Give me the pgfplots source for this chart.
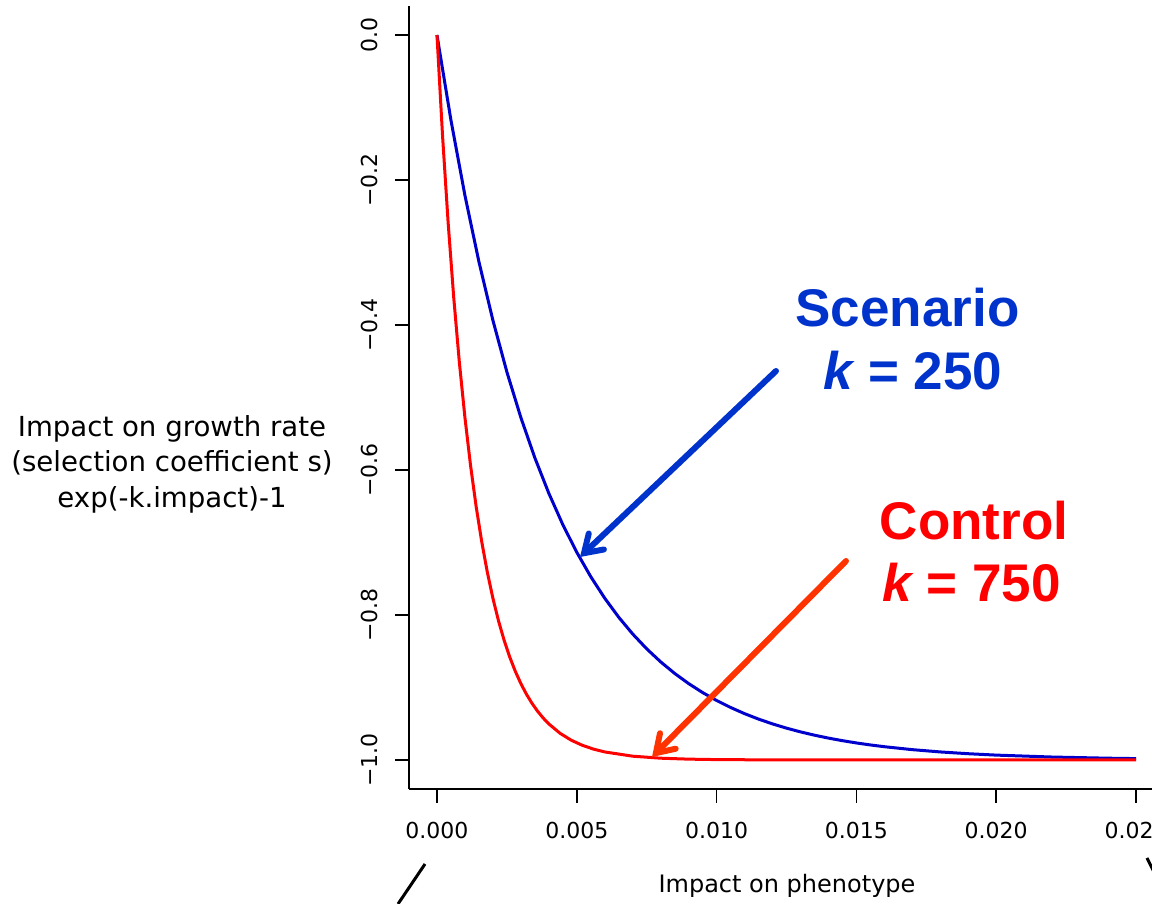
\documentclass[border=0pt]{standalone}
\usepackage{fontspec}
\setmainfont{DejaVu Sans}
\newfontfamily\boldarial{Liberation Sans}
\usepackage{pgfplots}
\pgfplotsset{compat=1.18}
\usetikzlibrary{arrows.meta}
\definecolor{scenblue}{HTML}{0033CC}
\definecolor{curveblue}{HTML}{0000CC}
\definecolor{ctrlred}{HTML}{FF0000}
\definecolor{arrowred}{HTML}{FF3300}
\begin{document}
\begin{tikzpicture}
\useasboundingbox (0pt,0pt) rectangle (576pt,452pt);
\begin{axis}[
  at={(204.5pt,57.5pt)}, anchor=south west,
  scale only axis, width=377.5pt, height=391.5pt,
  xmin=-0.001, xmax=0.026, ymin=-1.04, ymax=0.04,
  scaled x ticks=false, scaled y ticks=false,
  axis x line*=bottom, axis y line*=left,
  axis line style={-, line width=0.9pt, black},
  tick align=outside, major tick length=7pt,
  tick style={line width=0.9pt, black},
  xtick={0,0.005,0.01,0.015,0.02,0.025},
  xticklabels={0.000,0.005,0.010,0.015,0.020,0.025},
  ytick={-1,-0.8,-0.6,-0.4,-0.2,0},
  yticklabels={−1.0,−0.8,−0.6,−0.4,−0.2,0.0},
  ticklabel style={font=\fontsize{11}{13}\selectfont},
  xticklabel style={anchor=north, inner sep=0pt, yshift=-9.5pt},
  yticklabel style={rotate=90, anchor=south, inner sep=0pt, yshift=8.5pt},
  clip=false,
]
\addplot[curveblue, line width=1.5pt] coordinates {
(0,0) (0.0005,-0.117503) (0.001,-0.221199) (0.0015,-0.312711) (0.002,-0.393469)
(0.0025,-0.464739) (0.003,-0.527633) (0.0035,-0.583138) (0.004,-0.632121)
(0.0045,-0.675348) (0.005,-0.713495) (0.0055,-0.747160) (0.006,-0.776870)
(0.0065,-0.803088) (0.007,-0.826226) (0.0075,-0.846645) (0.008,-0.864665)
(0.0085,-0.880567) (0.009,-0.894601) (0.0095,-0.906986) (0.010,-0.917915)
(0.0105,-0.927560) (0.011,-0.936072) (0.0115,-0.943584) (0.012,-0.950213)
(0.0125,-0.956063) (0.013,-0.961226) (0.0135,-0.965782) (0.014,-0.969803)
(0.0145,-0.973351) (0.015,-0.976482) (0.0155,-0.979246) (0.016,-0.981684)
(0.017,-0.985736) (0.018,-0.988891) (0.019,-0.991348) (0.020,-0.993262)
(0.022,-0.995913) (0.024,-0.997521) (0.025,-0.998070)
};
\addplot[ctrlred, line width=1.5pt] coordinates {
(0,0) (0.0002,-0.139292) (0.0004,-0.259182) (0.0006,-0.362372) (0.0008,-0.451188)
(0.0010,-0.527633) (0.0012,-0.593430) (0.0014,-0.650062) (0.0016,-0.698806)
(0.0018,-0.740760) (0.0020,-0.776870) (0.0022,-0.807950) (0.0024,-0.834701)
(0.0026,-0.857726) (0.0028,-0.877544) (0.0030,-0.894601) (0.0032,-0.909282)
(0.0034,-0.921918) (0.0036,-0.932794) (0.0038,-0.942156) (0.0040,-0.950213)
(0.0044,-0.963117) (0.0048,-0.972676) (0.0052,-0.979758) (0.0056,-0.985004)
(0.0060,-0.988891) (0.0070,-0.994752) (0.0080,-0.997521) (0.0090,-0.998829)
(0.0100,-0.999447) (0.0120,-0.999877) (0.0150,-0.999987) (0.0200,-1.000000)
(0.0250,-1.000000)
};
\end{axis}
% annotation arrows
\draw[scenblue, line width=3pt, line cap=round, -{Straight Barb[length=8.5pt,width=11pt,line cap=round]}]
  (388pt,266.5pt) -- (290pt,173.5pt);
\draw[arrowred, line width=3pt, line cap=round, -{Straight Barb[length=8.5pt,width=11pt,line cap=round]}]
  (423pt,171.5pt) -- (326pt,73.5pt);
% annotation text
\node[anchor=base, text=scenblue, inner sep=0pt, font=\boldarial\bfseries\fontsize{26.5}{30}\selectfont] at (453.75pt,288.5pt) {Scenario};
\node[anchor=base, text=scenblue, inner sep=0pt, font=\boldarial\bfseries\fontsize{26.5}{30}\selectfont] at (456.5pt,257pt) {\itshape k\upshape{} = 250};
\node[anchor=base, text=ctrlred, inner sep=0pt, font=\boldarial\bfseries\fontsize{26.5}{30}\selectfont] at (487pt,182pt) {Control};
\node[anchor=base, text=ctrlred, inner sep=0pt, font=\boldarial\bfseries\fontsize{26.5}{30}\selectfont] at (485.75pt,151pt) {\itshape k\upshape{} = 750};
% axis labels
\node[align=center, font=\fontsize{13.8}{17.8}\selectfont] at (86pt,220pt)
  {Impact on growth rate\\(selection coefficient s)\\exp(-k.impact)-1};
\node[font=\fontsize{12}{14}\selectfont] at (393.5pt,9pt) {Impact on phenotype};
% slide decorations
\draw[black, line width=1.5pt] (199pt,0pt) -- (212.5pt,20pt);
\draw[black, line width=1.5pt] (573.5pt,23pt) -- (577pt,16pt);
\end{tikzpicture}
\end{document}
